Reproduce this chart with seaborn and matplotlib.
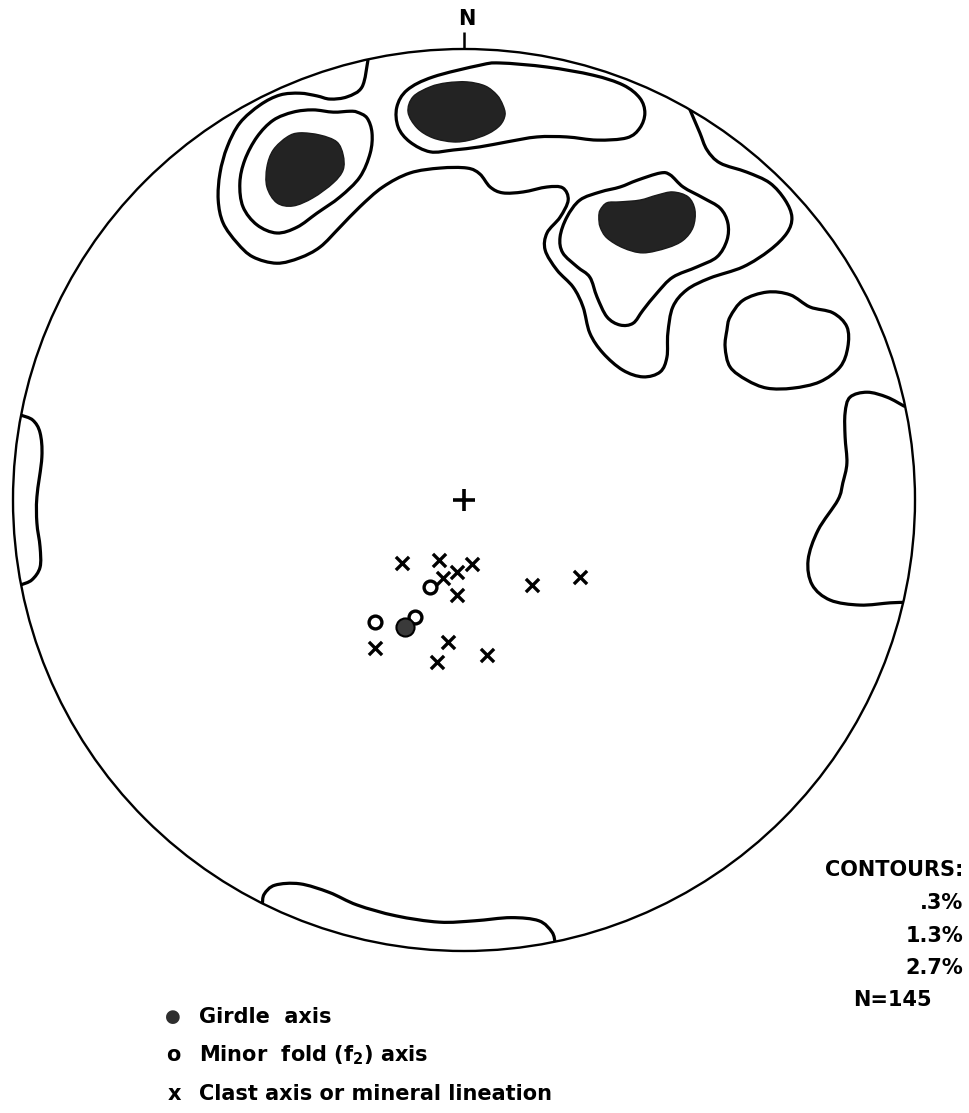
import numpy as np
import pandas as pd
import matplotlib
matplotlib.use("Agg")
import matplotlib.pyplot as plt
from matplotlib.path import Path
from matplotlib.patches import PathPatch, Circle
import seaborn as sns

# ------------------------------------------------------------------
# Equal-area net, unit radius: x = east, y = north
# ------------------------------------------------------------------

# 0.3 % contour lines (open ones end on the primitive circle)
c03_north = [(-0.213, 0.975), (-0.226, 0.916), (-0.259, 0.894), (-0.297, 0.889),
             (-0.326, 0.896), (-0.364, 0.902), (-0.408, 0.898), (-0.452, 0.876),
             (-0.497, 0.836), (-0.525, 0.783), (-0.541, 0.725), (-0.545, 0.665),
             (-0.534, 0.614), (-0.503, 0.570), (-0.468, 0.539), (-0.415, 0.525),
             (-0.364, 0.537), (-0.319, 0.561), (-0.275, 0.605), (-0.231, 0.650),
             (-0.180, 0.694), (-0.120, 0.725), (-0.053, 0.736), (0.007, 0.736),
             (0.035, 0.723), (0.058, 0.694), (0.086, 0.681), (0.131, 0.683),
             (0.184, 0.694), (0.219, 0.692), (0.231, 0.665), (0.213, 0.627),
             (0.184, 0.592), (0.180, 0.554), (0.206, 0.510), (0.242, 0.472),
             (0.264, 0.428), (0.279, 0.370), (0.308, 0.326), (0.352, 0.288),
             (0.397, 0.273), (0.435, 0.284), (0.450, 0.317), (0.452, 0.370),
             (0.463, 0.428), (0.494, 0.466), (0.545, 0.492), (0.619, 0.517),
             (0.678, 0.554), (0.716, 0.592), (0.727, 0.627), (0.712, 0.665),
             (0.678, 0.703), (0.627, 0.727), (0.568, 0.747), (0.539, 0.776),
             (0.523, 0.814), (0.508, 0.849), (0.500, 0.868)]
c03_east_ring = [(0.590, 0.406), (0.619, 0.443), (0.672, 0.461), (0.723, 0.455),
                 (0.767, 0.428), (0.818, 0.415), (0.849, 0.384), (0.851, 0.339),
                 (0.834, 0.295), (0.789, 0.262), (0.729, 0.248), (0.672, 0.248),
                 (0.627, 0.266), (0.590, 0.295), (0.579, 0.339), (0.583, 0.377)]
c03_east_edge = [(0.976, 0.208), (0.938, 0.228), (0.894, 0.239), (0.856, 0.228),
                 (0.845, 0.193), (0.845, 0.140), (0.849, 0.082), (0.840, 0.038),
                 (0.829, 0.000), (0.785, -0.067), (0.763, -0.133), (0.772, -0.188),
                 (0.812, -0.222), (0.878, -0.233), (0.945, -0.228), (0.976, -0.227)]
c03_west_edge = [(-0.982, 0.188), (-0.956, 0.177), (-0.940, 0.149), (-0.936, 0.095),
                 (-0.947, 0.007), (-0.947, -0.051), (-0.940, -0.104), (-0.940, -0.149),
                 (-0.958, -0.177), (-0.982, -0.188)]
c03_south_edge = [(-0.447, -0.896), (-0.443, -0.874), (-0.419, -0.854), (-0.364, -0.851),
                  (-0.299, -0.870), (-0.237, -0.898), (-0.151, -0.922), (-0.055, -0.936),
                  (0.024, -0.933), (0.104, -0.926), (0.166, -0.933), (0.195, -0.958),
                  (0.202, -0.981)]

# 1.3 % contour rings
c13_northwest = [(-0.253, 0.862), (-0.290, 0.860), (-0.335, 0.865), (-0.379, 0.860),
                 (-0.423, 0.842), (-0.459, 0.805), (-0.486, 0.754), (-0.497, 0.703),
                 (-0.490, 0.650), (-0.459, 0.610), (-0.415, 0.592), (-0.370, 0.605),
                 (-0.326, 0.636), (-0.275, 0.672), (-0.231, 0.716), (-0.208, 0.769),
                 (-0.204, 0.814), (-0.215, 0.847), (-0.237, 0.860)]
c13_north = [(0.035, 0.964), (-0.069, 0.938), (-0.126, 0.909), (-0.149, 0.871),
             (-0.146, 0.827), (-0.120, 0.794), (-0.075, 0.772), (-0.024, 0.776),
             (0.035, 0.783), (0.095, 0.794), (0.162, 0.805), (0.228, 0.805),
             (0.295, 0.798), (0.361, 0.803), (0.390, 0.825), (0.401, 0.858),
             (0.390, 0.891), (0.353, 0.920), (0.286, 0.942), (0.184, 0.960),
             (0.080, 0.969)]
c13_northeast = [(0.435, 0.725), (0.384, 0.709), (0.346, 0.694), (0.302, 0.683),
                 (0.257, 0.665), (0.228, 0.627), (0.213, 0.583), (0.219, 0.548),
                 (0.251, 0.517), (0.279, 0.494), (0.295, 0.450), (0.317, 0.406),
                 (0.346, 0.388), (0.375, 0.392), (0.397, 0.421), (0.428, 0.459),
                 (0.463, 0.494), (0.517, 0.517), (0.561, 0.539), (0.583, 0.576),
                 (0.585, 0.614), (0.568, 0.647), (0.530, 0.670), (0.486, 0.694),
                 (0.457, 0.721)]

# 2.7 % maxima (filled)
c27_northwest = [(-0.268, 0.765), (-0.282, 0.794), (-0.319, 0.809), (-0.364, 0.814),
                 (-0.392, 0.805), (-0.423, 0.776), (-0.437, 0.738), (-0.437, 0.694),
                 (-0.415, 0.659), (-0.379, 0.652), (-0.335, 0.670), (-0.290, 0.703),
                 (-0.268, 0.732)]
c27_north = [(-0.124, 0.860), (-0.113, 0.894), (-0.075, 0.916), (-0.038, 0.925),
             (0.007, 0.927), (0.047, 0.918), (0.073, 0.898), (0.086, 0.876),
             (0.091, 0.854), (0.080, 0.831), (0.053, 0.812), (0.013, 0.798),
             (-0.024, 0.794), (-0.069, 0.803), (-0.104, 0.825)]
c27_northeast = [(0.302, 0.643), (0.317, 0.659), (0.346, 0.661), (0.390, 0.665),
                 (0.428, 0.676), (0.463, 0.683), (0.497, 0.672), (0.512, 0.643),
                 (0.508, 0.605), (0.486, 0.576), (0.450, 0.559), (0.397, 0.548),
                 (0.353, 0.559), (0.317, 0.581), (0.302, 0.605), (0.299, 0.627)]

# Point data
clast_x = [-0.137, -0.055, -0.016, 0.018, -0.047, -0.016, 0.151, 0.257,
           -0.197, -0.035, -0.060, 0.051]
clast_y = [-0.140, -0.133, -0.160, -0.142, -0.173, -0.211, -0.188, -0.171,
           -0.328, -0.315, -0.359, -0.344]
fold_x = [-0.075, -0.197, -0.109]
fold_y = [-0.193, -0.271, -0.259]
girdle_x = [-0.131]
girdle_y = [-0.282]
centre_x = [0.0]
centre_y = [0.0]

contour_text = ["CONTOURS:", ".3%", "1.3%", "2.7%"]
count_text = "N=145"
legend_text = ["Girdle  axis",
               r"Minor  fold (f$_\mathregular{2}$) axis",
               "Clast axis or mineral lineation"]
north_text = "N"


def smooth_path(points, closed):
    """Catmull-Rom curve through the points, as cubic Bezier segments."""
    p = np.asarray(points, dtype=float)
    if closed:
        ext = np.vstack([p[-1], p, p[0], p[1]])
    else:
        ext = np.vstack([p[0], p, p[-1]])
    verts = [ext[1]]
    codes = [Path.MOVETO]
    for i in range(1, len(ext) - 2):
        p0, p1, p2, p3 = ext[i - 1], ext[i], ext[i + 1], ext[i + 2]
        verts += [p1 + (p2 - p0) / 6.0, p2 - (p3 - p1) / 6.0, p2]
        codes += [Path.CURVE4] * 3
    if closed:
        verts.append(ext[1])
        codes.append(Path.CLOSEPOLY)
    return Path(np.array(verts), codes)


sns.set_theme(style="white")
plt.rcParams["font.family"] = ["DejaVu Sans"]
plt.rcParams["text.color"] = "black"

W, H = 969, 1113
CX, CY, R = 464, 500, 451
fig = plt.figure(figsize=(W / 100, H / 100), dpi=100)
ax = fig.add_axes([0, 0, 1, 1])
ax.set_xlim(-CX / R, (W - CX) / R)
ax.set_ylim((CY - H) / R, CY / R)
ax.set_aspect("equal")
ax.axis("off")

primitive = Circle((0, 0), 1.0, facecolor="none", edgecolor="black", lw=1.7, zorder=5)
ax.add_patch(primitive)
clip = Circle((0, 0), 1.0, transform=ax.transData)

line_kw = dict(facecolor="none", edgecolor="black", lw=2.3,
               capstyle="round", joinstyle="round", zorder=3)
for pts in [c03_north, c03_east_edge, c03_west_edge, c03_south_edge]:
    patch = PathPatch(smooth_path(pts, closed=False), **line_kw)
    patch.set_clip_path(clip)
    ax.add_patch(patch)
for pts in [c03_east_ring, c13_northwest, c13_north, c13_northeast]:
    ax.add_patch(PathPatch(smooth_path(pts, closed=True), **line_kw))
for pts in [c27_northwest, c27_north, c27_northeast]:
    ax.add_patch(PathPatch(smooth_path(pts, closed=True), facecolor="#232323",
                           edgecolor="#1a1a1a", lw=1.0, zorder=3))

# North tick
ax.plot([0, 0], [1.0, 1.038], color="black", lw=1.8, solid_capstyle="butt", zorder=5)
ax.text(0.006, 1.045, north_text, ha="center", va="bottom", fontsize=15,
        fontweight="bold")

# Point symbols
pts = pd.DataFrame({
    "x": clast_x + fold_x + girdle_x + centre_x,
    "y": clast_y + fold_y + girdle_y + centre_y,
    "kind": ["clast"] * len(clast_x) + ["fold"] * len(fold_x)
            + ["girdle"] * len(girdle_x) + ["centre"] * len(centre_x),
})
sns.scatterplot(data=pts[pts.kind == "clast"], x="x", y="y", marker="x", s=90,
                color="black", linewidth=2.4, ax=ax, legend=False, zorder=6)
sns.scatterplot(data=pts[pts.kind == "fold"], x="x", y="y", marker="o", s=85,
                color="white", edgecolor="black", linewidth=2.4, ax=ax,
                legend=False, zorder=6)
sns.scatterplot(data=pts[pts.kind == "girdle"], x="x", y="y", marker="o", s=170,
                color="#3a3a3a", edgecolor="black", linewidth=1.5, ax=ax,
                legend=False, zorder=6)
sns.scatterplot(data=pts[pts.kind == "centre"], x="x", y="y", marker="+", s=260,
                color="black", linewidth=2.6, ax=ax, legend=False, zorder=6)
ax.set_xlabel("")
ax.set_ylabel("")


def fx(px):
    return px / W


def fy(py):
    return 1 - py / H


# Contour key (right side)
for label, py in zip(contour_text, [870, 903, 936, 968]):
    fig.text(fx(963), fy(py), label, ha="right", va="center", fontsize=15,
             fontweight="bold")
fig.text(fx(932), fy(1000), count_text, ha="right", va="center", fontsize=15,
         fontweight="bold")

# Symbol legend (lower left)
leg_y = [1017, 1055, 1094]
fig.text(fx(173), fy(leg_y[0]), "\u25cf", ha="center", va="center", fontsize=13,
         color="#2e2e2e")
fig.text(fx(173), fy(leg_y[1]), "o", ha="center", va="center", fontsize=15,
         fontweight="bold")
fig.text(fx(174), fy(leg_y[2]), "x", ha="center", va="center", fontsize=15,
         fontweight="bold")
for label, py in zip(legend_text, leg_y):
    fig.text(fx(199), fy(py), label, ha="left", va="center", fontsize=15,
             fontweight="bold")

fig.savefig("out.png", dpi=100, facecolor="white")
